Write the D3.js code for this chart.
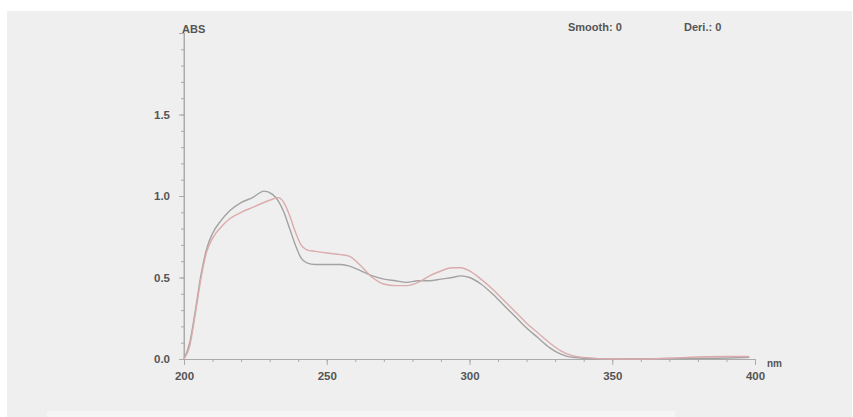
<!DOCTYPE html>
<html>
<head>
<meta charset="utf-8">
<script src="https://cdn.jsdelivr.net/npm/d3@7"></script>
<style>
    body { margin: 0; background: #fff; }
    text { font-family: "Liberation Sans", Arial, sans-serif; }
</style>
</head>
<body>
<div class="canvas"></div>

<script>
    // wavelengths (nm) and the two absorbance traces
    const wavelengths = [200, 202, 204, 206, 208, 210, 213, 216, 220, 224, 228, 231, 233, 235, 237, 239, 241, 243, 246, 250,
        255, 258, 262, 266, 270, 274, 278, 282, 286, 290, 294, 297, 300, 304, 308, 312, 316, 320, 324, 328,
        332, 336, 340, 350, 360, 370, 380, 390, 398];
    const grayTrace = [0.0, 0.1, 0.3, 0.52, 0.68, 0.77, 0.85, 0.91, 0.96, 0.99, 1.03, 1.01, 0.97, 0.9, 0.8, 0.7, 0.62, 0.59, 0.58, 0.58,
        0.58, 0.57, 0.54, 0.51, 0.49, 0.48, 0.47, 0.48, 0.48, 0.49, 0.5, 0.51, 0.5, 0.46, 0.4, 0.33, 0.26, 0.19, 0.13, 0.07,
        0.03, 0.01, 0.005, 0.0, 0.002, 0.003, 0.004, 0.006, 0.01];
    const pinkTrace = [0.0, 0.08, 0.28, 0.5, 0.66, 0.74, 0.81, 0.86, 0.9, 0.93, 0.96, 0.98, 0.99, 0.96, 0.88, 0.78, 0.7, 0.67, 0.66, 0.65,
        0.64, 0.63, 0.57, 0.5, 0.46, 0.45, 0.45, 0.47, 0.51, 0.54, 0.56, 0.56, 0.54, 0.49, 0.43, 0.36, 0.29, 0.22, 0.16, 0.1,
        0.05, 0.02, 0.01, 0.0, 0.0, 0.005, 0.012, 0.015, 0.015];
    const xMajorTicks = [200, 250, 300, 350, 400];
    const yMajorTicks = [0, 0.5, 1.0, 1.5];

    const width = 853;
    const height = 417;
    const AXIS_COLOR = "#ababab";
    const TEXT_COLOR = "#555555";

    const svg = d3.select(".canvas").append("svg")
        .attr("width", width)
        .attr("height", height)

    // grey panel
    svg.append("rect")
        .attr("x", 7).attr("y", 11)
        .attr("width", width - 8).attr("height", height - 11)
        .attr("fill", "#efefef")
    svg.append("rect")
        .attr("x", 47).attr("y", 411)
        .attr("width", 628).attr("height", 6)
        .attr("fill", "#f5f5f5")

    const xScale = d3.scaleLinear().domain([200, 400]).range([184, 755]);
    const yScale = d3.scaleLinear().domain([0, 2]).range([359, 33]);

    // x axis: minor ticks every 10, major every 50
    const xAxis = svg.append("g")
        .attr("transform", "translate(0," + yScale(0) + ")")
    xAxis.call(d3.axisBottom(xScale).tickValues(d3.range(200, 401, 10)).tickSize(3).tickFormat(""))
    xAxis.append("g").call(d3.axisBottom(xScale).tickValues(xMajorTicks).tickSize(6).tickPadding(7).tickFormat(d3.format("d")))
    xAxis.selectAll("path.domain").attr("stroke", AXIS_COLOR)
    xAxis.selectAll("line").attr("stroke", AXIS_COLOR)
    xAxis.selectAll("text")
        .attr("fill", TEXT_COLOR)
        .style("font-size", "11.5px")
        .style("font-weight", "bold")

    // y axis: minor ticks every 0.1
    const yAxis = svg.append("g")
        .attr("transform", "translate(" + xScale(200) + ",0)")
    yAxis.call(d3.axisLeft(yScale).tickValues(d3.range(0, 20).map(function (i) { return i / 10; })).tickSize(3).tickFormat(""))
    yAxis.append("g").call(d3.axisLeft(yScale).tickValues(yMajorTicks).tickSize(5).tickPadding(9).tickFormat(d3.format(".1f")))
    yAxis.selectAll("path.domain").attr("stroke", AXIS_COLOR)
    yAxis.selectAll("line").attr("stroke", AXIS_COLOR)
    yAxis.selectAll("text")
        .attr("fill", TEXT_COLOR)
        .style("font-size", "11.5px")
        .style("font-weight", "bold")
    yAxis.append("line")
        .attr("x1", 0).attr("x2", 0)
        .attr("y1", yScale(2)).attr("y2", yScale(0))
        .attr("stroke", AXIS_COLOR)

    // traces
    const line = d3.line()
        .x(function (d) { return xScale(d[0]); })
        .y(function (d) { return yScale(d[1]); })
        .curve(d3.curveMonotoneX)

    const traces = [
        { values: grayTrace, color: "#a2a2a2" },
        { values: pinkTrace, color: "#dbabad" }
    ];
    svg.selectAll("path.trace")
        .data(traces)
        .enter()
        .append("path")
        .attr("class", "trace")
        .attr("fill", "none")
        .attr("stroke", function (d) { return d.color; })
        .attr("stroke-width", 1.4)
        .attr("d", function (d) {
            return line(wavelengths.map(function (w, i) { return [w, d.values[i]]; }));
        })

    // labels
    svg.append("text")
        .attr("x", 182).attr("y", 33)
        .attr("fill", TEXT_COLOR)
        .style("font-size", "11px")
        .style("font-weight", "bold")
        .text("ABS")
    svg.append("text")
        .attr("x", 568).attr("y", 31)
        .attr("fill", TEXT_COLOR)
        .style("font-size", "11px")
        .style("font-weight", "bold")
        .text("Smooth: 0")
    svg.append("text")
        .attr("x", 684).attr("y", 31)
        .attr("fill", TEXT_COLOR)
        .style("font-size", "11px")
        .style("font-weight", "bold")
        .text("Deri.: 0")
    svg.append("text")
        .attr("x", 767).attr("y", 367)
        .attr("fill", TEXT_COLOR)
        .style("font-size", "10px")
        .style("font-weight", "bold")
        .text("nm")
</script>
</body>
</html>
